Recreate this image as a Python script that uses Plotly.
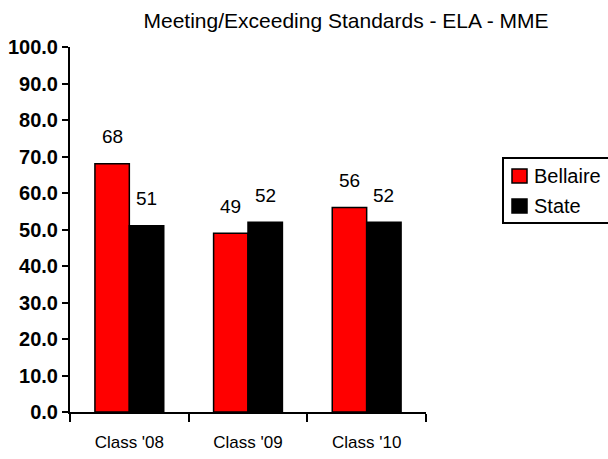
import plotly.graph_objects as go

categories = ["Class '08", "Class '09", "Class '10"]
series_names = ["Bellaire", "State"]
bellaire = [68, 49, 56]
state = [51, 52, 52]
y_ticks = [0, 10, 20, 30, 40, 50, 60, 70, 80, 90, 100]

FONT = "Liberation Sans, Arial, sans-serif"
colors = ["#ff0000", "#000000"]

W, H = 608, 459
L, R, T, B = 70, 182, 47, 47
PW, PH = W - L - R, H - T - B


def px_x(px):
    return (px - L) / PW


def px_y(py):
    return (H - B - py) / PH


fig = go.Figure()
for name, vals, col in zip(series_names, [bellaire, state], colors):
    fig.add_trace(go.Bar(name=name, x=categories, y=vals, showlegend=False,
                         marker=dict(color=col, line=dict(color="black", width=1.5))))

# value labels above each bar
bargap = 0.42
half = (1 - bargap) / 4
n = len(categories)
for i in range(n):
    for j, vals in enumerate([bellaire, state]):
        fig.add_annotation(x=i + (-half if j == 0 else half), y=vals[i], xref="x", yref="y",
                           text=str(vals[i]), showarrow=False, yanchor="middle", yshift=27,
                           font=dict(family=FONT, size=19, color="black"))

# legend box
shapes = [dict(type="rect", xref="paper", yref="paper", x0=px_x(503), x1=px_x(614),
               y0=px_y(223), y1=px_y(158), line=dict(color="black", width=2),
               fillcolor="white", layer="above")]
for k, (name, col) in enumerate(zip(series_names, colors)):
    cy = 176 + 30 * k
    shapes.append(dict(type="rect", xref="paper", yref="paper", x0=px_x(512), x1=px_x(527),
                       y0=px_y(cy + 7), y1=px_y(cy - 7), line=dict(color="black", width=1.5),
                       fillcolor=col, layer="above"))
    fig.add_annotation(x=px_x(532), y=px_y(cy), xref="paper", yref="paper", text=name,
                       showarrow=False, xanchor="left", yanchor="middle",
                       font=dict(family=FONT, size=20, color="black"))

fig.update_layout(
    width=W, height=H,
    margin=dict(l=L, r=R, t=T, b=B, autoexpand=False),
    paper_bgcolor="white", plot_bgcolor="white",
    barmode="group", bargap=bargap, bargroupgap=0,
    shapes=shapes,
    title=dict(text="Meeting/Exceeding Standards - ELA - MME", x=346 / W, xanchor="center",
               y=1 - 21 / H, yanchor="middle",
               font=dict(family=FONT, size=21, color="black")),
    font=dict(family=FONT, color="black"),
    showlegend=False,
)
fig.update_xaxes(type="category", range=[-0.5, n - 0.5], showline=True, linecolor="black",
                 linewidth=2, ticks="outside", tickson="boundaries", ticklen=8, tickwidth=2,
                 tickcolor="black", showgrid=False, ticklabelstandoff=14, automargin=False,
                 tickfont=dict(family=FONT, size=17, color="black"))
fig.update_yaxes(range=[0, 100], tickvals=y_ticks, ticktext=[f"{v:.1f}" for v in y_ticks],
                 showline=True, linecolor="black", linewidth=2, ticks="outside", ticklen=6,
                 tickwidth=2, tickcolor="black", showgrid=False, zeroline=False,
                 automargin=False,
                 tickfont=dict(family=FONT, size=20, color="black", weight="bold"))

fig.write_html("out.html")
